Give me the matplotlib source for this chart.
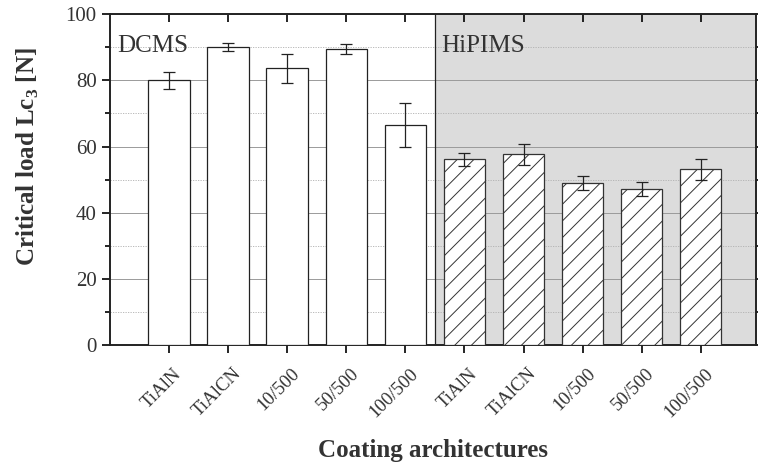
import matplotlib.pyplot as plt
from matplotlib.ticker import MultipleLocator
from matplotlib.transforms import ScaledTranslation

plt.rcParams['font.family'] = ['Liberation Serif', 'DejaVu Serif']
plt.rcParams['hatch.linewidth'] = 0.7

labels = ['TiAlN', 'TiAlCN', '10/500', '50/500', '100/500',
          'TiAlN', 'TiAlCN', '10/500', '50/500', '100/500']
dcms_vals = [80.0, 90.1, 83.6, 89.5, 66.6]
dcms_err = [2.6, 1.2, 4.5, 1.6, 6.6]
hipims_vals = [56.1, 57.6, 49.1, 47.1, 53.1]
hipims_err = [2.0, 3.2, 2.1, 2.2, 3.2]

fig = plt.figure(figsize=(7.58, 4.72), dpi=100)
ax = fig.add_axes([0.145, 0.269, 0.852, 0.701])

x_dc = list(range(1, 6))
x_hi = list(range(6, 11))

ax.axvspan(5.5, 11, color='#dcdcdc', zorder=0, lw=0)

ax.bar(x_dc, dcms_vals, width=0.7, color='white', edgecolor='#222222', lw=0.9, zorder=3)
ax.bar(x_hi, hipims_vals, width=0.7, color='white', edgecolor='#333333', hatch='//', lw=0.9, zorder=3)
ax.errorbar(x_dc, dcms_vals, yerr=dcms_err, fmt='none', ecolor='#222222', elinewidth=0.9,
            capsize=4, capthick=0.9, zorder=4)
ax.errorbar(x_hi, hipims_vals, yerr=hipims_err, fmt='none', ecolor='#222222', elinewidth=0.9,
            capsize=4, capthick=0.9, zorder=4)

ax.axvline(5.5, color='#222222', lw=0.9, zorder=2)

ax.set_xlim(0, 10.93)
ax.set_ylim(0, 100)
ax.yaxis.set_major_locator(MultipleLocator(20))
ax.yaxis.set_minor_locator(MultipleLocator(10))
ax.grid(which='major', axis='y', color='#9a9a9a', lw=0.7, zorder=1)
ax.grid(which='minor', axis='y', color='#b0b0b0', lw=0.6, ls=(0, (1.5, 1.5)), zorder=1)

positions = list(range(1, 11))
ax.set_xticks(positions)
ax.set_xticklabels([])
# rotated category labels, shifted a bit right/down of their ticks
shift = ScaledTranslation(0.10, -0.26, fig.dpi_scale_trans)
for pos, lab in zip(positions, labels):
    ax.text(pos, 0, lab, transform=ax.get_xaxis_transform() + shift, rotation=45,
            ha='right', va='center', rotation_mode='anchor', fontsize=13.5, color='#333333')

ax.tick_params(axis='x', which='both', direction='out', length=6, width=1.2, top=True)
ax.tick_params(axis='y', which='both', direction='out', width=1.2, right=True, labelsize=15,
               labelcolor='#333333')
ax.tick_params(axis='y', which='major', length=6)
ax.tick_params(axis='y', which='minor', length=3.5)
# top and right ticks point inward
for tl in ax.xaxis.get_major_ticks():
    tl.tick2line.set_marker(3)
for tl in ax.yaxis.get_major_ticks() + ax.yaxis.get_minor_ticks():
    tl.tick2line.set_marker(1)

for s in ax.spines.values():
    s.set_linewidth(1.4)
    s.set_color('#222222')

ax.text(0.12, 90.5, 'DCMS', fontsize=18, color='#333333', va='center', ha='left')
ax.text(5.6, 90.5, 'HiPIMS', fontsize=18, color='#333333', va='center', ha='left')

ax.set_ylabel(r'Critical load Lc$_\mathregular{3}$ [N]', fontsize=18, fontweight='bold', color='#333333')
ax.yaxis.set_label_coords(-0.107, 0.57)
ax.set_xlabel('Coating architectures', fontsize=18, fontweight='bold', color='#333333')
ax.xaxis.set_label_coords(0.5, -0.285)

fig.savefig('out.png', dpi=100)
